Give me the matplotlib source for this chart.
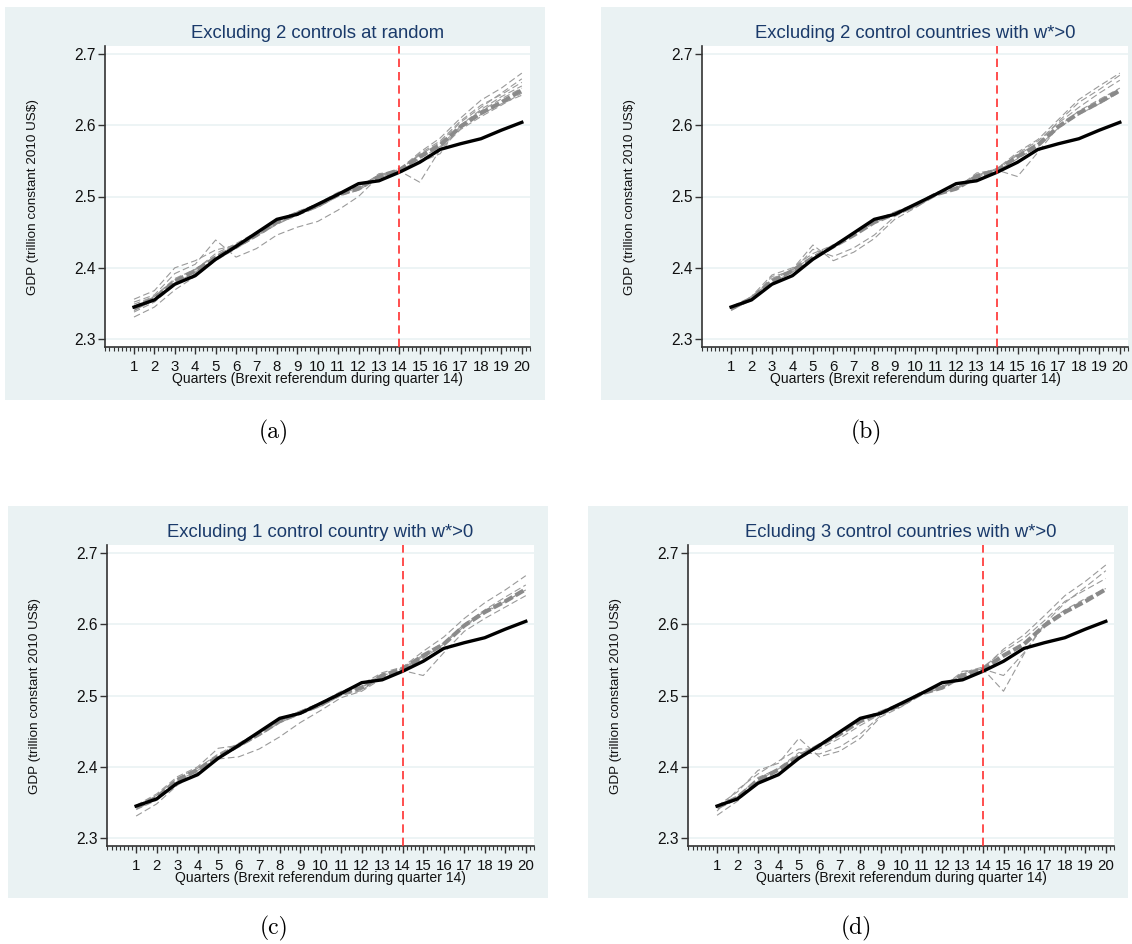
import matplotlib
matplotlib.use("Agg")
import matplotlib.pyplot as plt
from matplotlib.ticker import MultipleLocator

plt.rcParams['font.family'] = ['Liberation Sans', 'DejaVu Sans']

quarters = list(range(1, 21))

# UK GDP (trillion constant 2010 US$), same in every panel
uk_gdp = [2.345, 2.355, 2.377, 2.389, 2.412, 2.430, 2.449, 2.468, 2.475, 2.489,
          2.503, 2.518, 2.522, 2.534, 2.548, 2.566, 2.574, 2.581, 2.593, 2.604]

# baseline synthetic UK
synth_gdp = [2.343, 2.357, 2.381, 2.396, 2.414, 2.430, 2.446, 2.464, 2.476, 2.487,
             2.503, 2.511, 2.528, 2.537, 2.556, 2.572, 2.598, 2.617, 2.632, 2.649]

# leave-out synthetic controls, panel (a)
loo_a = [
    [2.352, 2.362, 2.392, 2.405, 2.439, 2.415, 2.427, 2.446, 2.457, 2.465,
     2.481, 2.500, 2.528, 2.537, 2.560, 2.578, 2.606, 2.628, 2.643, 2.660],
    [2.331, 2.345, 2.369, 2.388, 2.410, 2.428, 2.445, 2.463, 2.476, 2.488,
     2.503, 2.512, 2.527, 2.535, 2.553, 2.570, 2.600, 2.622, 2.640, 2.655],
    [2.356, 2.368, 2.400, 2.410, 2.425, 2.432, 2.448, 2.462, 2.475, 2.488,
     2.505, 2.513, 2.530, 2.538, 2.562, 2.582, 2.610, 2.635, 2.652, 2.673],
    [2.340, 2.355, 2.378, 2.394, 2.413, 2.428, 2.446, 2.465, 2.477, 2.486,
     2.502, 2.510, 2.532, 2.536, 2.520, 2.566, 2.594, 2.612, 2.628, 2.645],
    [2.346, 2.360, 2.385, 2.398, 2.417, 2.433, 2.447, 2.466, 2.478, 2.490,
     2.506, 2.514, 2.530, 2.538, 2.558, 2.576, 2.604, 2.625, 2.645, 2.665],
    [2.338, 2.352, 2.376, 2.392, 2.410, 2.427, 2.444, 2.461, 2.474, 2.485,
     2.500, 2.509, 2.526, 2.536, 2.550, 2.568, 2.596, 2.615, 2.630, 2.642],
    [2.349, 2.360, 2.383, 2.397, 2.420, 2.434, 2.450, 2.466, 2.479, 2.489,
     2.504, 2.512, 2.529, 2.537, 2.548, 2.560, 2.600, 2.620, 2.637, 2.652],
]

# panel (b)
loo_b = [
    [2.343, 2.357, 2.385, 2.398, 2.432, 2.410, 2.422, 2.441, 2.468, 2.484,
     2.502, 2.511, 2.530, 2.538, 2.558, 2.575, 2.605, 2.632, 2.650, 2.670],
    [2.340, 2.356, 2.388, 2.395, 2.426, 2.416, 2.428, 2.446, 2.472, 2.486,
     2.503, 2.511, 2.533, 2.537, 2.528, 2.562, 2.598, 2.620, 2.636, 2.652],
    [2.342, 2.360, 2.390, 2.400, 2.420, 2.432, 2.447, 2.466, 2.476, 2.488,
     2.504, 2.511, 2.531, 2.539, 2.562, 2.580, 2.608, 2.636, 2.655, 2.673],
    [2.344, 2.358, 2.383, 2.397, 2.416, 2.431, 2.447, 2.465, 2.477, 2.487,
     2.503, 2.512, 2.529, 2.537, 2.560, 2.578, 2.603, 2.625, 2.645, 2.663],
    [2.341, 2.355, 2.379, 2.394, 2.412, 2.429, 2.446, 2.463, 2.475, 2.486,
     2.502, 2.510, 2.527, 2.536, 2.553, 2.570, 2.596, 2.615, 2.630, 2.646],
]

# panel (c)
loo_c = [
    [2.345, 2.360, 2.384, 2.398, 2.418, 2.433, 2.449, 2.466, 2.478, 2.490,
     2.506, 2.516, 2.532, 2.540, 2.562, 2.582, 2.608, 2.630, 2.648, 2.668],
    [2.331, 2.348, 2.374, 2.392, 2.411, 2.414, 2.425, 2.442, 2.462, 2.479,
     2.497, 2.506, 2.524, 2.535, 2.552, 2.572, 2.598, 2.618, 2.632, 2.648],
    [2.340, 2.353, 2.377, 2.390, 2.412, 2.428, 2.444, 2.462, 2.474, 2.485,
     2.500, 2.507, 2.528, 2.535, 2.528, 2.560, 2.590, 2.608, 2.624, 2.640],
    [2.346, 2.362, 2.386, 2.400, 2.426, 2.430, 2.446, 2.465, 2.476, 2.488,
     2.504, 2.512, 2.530, 2.538, 2.557, 2.574, 2.600, 2.620, 2.638, 2.655],
    [2.342, 2.356, 2.380, 2.395, 2.413, 2.431, 2.448, 2.464, 2.475, 2.487,
     2.502, 2.511, 2.528, 2.536, 2.555, 2.573, 2.597, 2.616, 2.632, 2.648],
]

# panel (d)
loo_d = [
    [2.345, 2.365, 2.395, 2.405, 2.440, 2.414, 2.422, 2.440, 2.470, 2.484,
     2.502, 2.510, 2.530, 2.538, 2.565, 2.585, 2.612, 2.640, 2.660, 2.683],
    [2.332, 2.352, 2.380, 2.398, 2.420, 2.418, 2.428, 2.446, 2.472, 2.486,
     2.503, 2.511, 2.534, 2.537, 2.506, 2.558, 2.600, 2.630, 2.652, 2.675],
    [2.338, 2.368, 2.390, 2.408, 2.425, 2.425, 2.440, 2.458, 2.474, 2.487,
     2.505, 2.512, 2.532, 2.540, 2.562, 2.580, 2.605, 2.632, 2.648, 2.664],
    [2.343, 2.358, 2.385, 2.397, 2.418, 2.430, 2.447, 2.465, 2.476, 2.488,
     2.504, 2.511, 2.530, 2.537, 2.528, 2.560, 2.600, 2.620, 2.636, 2.650],
]

titles = ["Excluding 2 controls at random",
          "Excluding 2 control countries with w*>0",
          "Excluding 1 control country with w*>0",
          "Ecluding 3 control countries with w*>0"]
captions = ["(a)", "(b)", "(c)", "(d)"]
yticks = [2.3, 2.4, 2.5, 2.6, 2.7]

W, H = 1132, 944
BG = "#EAF2F3"

# pixel boxes: background (x0, y0, x1, y1), plot area (x0, y0, x1, y1), caption centre
panels = [
    ((5, 7, 545, 400), (105, 46, 530, 347), (274, 432)),
    ((601, 7, 1132, 400), (702, 46, 1128, 347), (866, 432)),
    ((8, 506, 548, 898), (107, 545, 534, 846), (274, 928)),
    ((588, 506, 1128, 898), (688, 545, 1114, 846), (856, 928)),
]
all_loo = [loo_a, loo_b, loo_c, loo_d]

fig = plt.figure(figsize=(W / 100, H / 100), dpi=100)


def box(x0, y0, x1, y1):
    return [x0 / W, 1 - y1 / H, (x1 - x0) / W, (y1 - y0) / H]


for i, (bg, pa, cap) in enumerate(panels):
    bax = fig.add_axes(box(*bg))
    bax.set_facecolor(BG)
    bax.set_xticks([])
    bax.set_yticks([])
    for s in bax.spines.values():
        s.set_visible(False)

    ax = fig.add_axes(box(*pa))
    ax.set_facecolor("white")
    for yv in yticks:
        ax.axhline(yv, color=BG, lw=1.2, zorder=0)

    for line in all_loo[i]:
        ax.plot(quarters, line, color="#9a9a9a", lw=0.8, dashes=(6, 3), zorder=2)
    ax.plot(quarters, synth_gdp, color="#8a8a8a", lw=3.0, dashes=(2.2, 0.8), zorder=3)
    ax.plot(quarters, uk_gdp, color="black", lw=2.4, zorder=4)
    ax.axvline(14, color="#ff3030", lw=1.2, dashes=(5, 3), zorder=5)

    ax.set_xlim(-0.42, 20.4)
    ax.set_ylim(2.289, 2.711)
    ax.set_xticks(quarters)
    ax.xaxis.set_minor_locator(MultipleLocator(0.2))
    ax.set_yticks(yticks)
    ax.set_yticklabels([f"{v:.1f}" for v in yticks])
    ax.tick_params(axis="both", which="major", direction="out", length=5,
                   width=1, color="#333333", labelcolor="#111111")
    ax.tick_params(axis="x", which="major", labelsize=10.8, pad=4)
    ax.tick_params(axis="y", which="major", labelsize=11.2, pad=2)
    ax.tick_params(axis="x", which="minor", direction="out", length=3,
                   width=0.8, color="#333333")
    for s in ["top", "right"]:
        ax.spines[s].set_visible(False)
    for s in ["left", "bottom"]:
        ax.spines[s].set_color("#333333")
        ax.spines[s].set_linewidth(1.2)

    ax.set_title(titles[i], fontsize=13.3, color="#1a3a6a", pad=6)
    ax.set_xlabel("Quarters (Brexit referendum during quarter 14)",
                  fontsize=10.1, color="#111111", labelpad=-1)
    ax.set_ylabel("GDP (trillion constant 2010 US$)", fontsize=9.7,
                  color="#111111", labelpad=25)

    fig.text(cap[0] / W, 1 - cap[1] / H, captions[i], family="cmr10",
             fontsize=17, ha="center", va="center")

fig.savefig("out.png", dpi=100)
